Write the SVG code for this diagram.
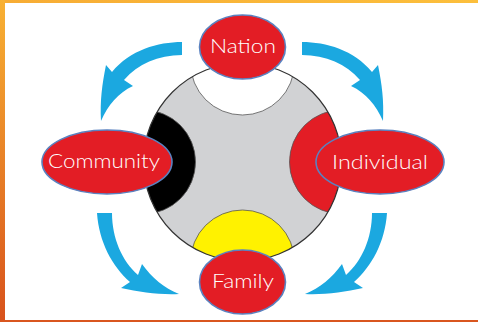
<svg xmlns="http://www.w3.org/2000/svg" width="478" height="322" viewBox="0 0 478 322">
  <defs>
    <linearGradient id="leftEdge" x1="0" y1="0" x2="0" y2="1">
      <stop offset="0" stop-color="#f8b133"/>
      <stop offset="1" stop-color="#d8521c"/>
    </linearGradient>
    <linearGradient id="topEdge" x1="0" y1="0" x2="1" y2="0">
      <stop offset="0" stop-color="#f7ac34"/>
      <stop offset="1" stop-color="#fcbf3c"/>
    </linearGradient>
    <clipPath id="wheelClip">
      <circle cx="242.5" cy="162" r="99"/>
    </clipPath>
    <style>
      .arrow { fill: #1ba8e0; }
      .seg { stroke: #555; stroke-width: 0.8; }
      .node ellipse { fill: #e31d25; stroke: #5a82c0; stroke-width: 1.6; }
      .node text { fill: #ffffff; font-family: "Lato", "Open Sans", sans-serif; font-weight: 300; font-size: 20px; text-anchor: middle; }
    </style>
  </defs>

  <!-- page background and frame -->
  <rect x="0" y="0" width="478" height="322" fill="#ffffff"/>
  <rect x="0" y="0" width="478" height="3" fill="url(#topEdge)"/>
  <rect x="0" y="0" width="5" height="322" fill="url(#leftEdge)"/>
  <rect x="0" y="320" width="478" height="2" fill="#d9561f"/>

  <!-- central wheel -->
  <g id="wheel">
    <circle cx="242.5" cy="162" r="99" fill="#d1d2d4"/>
    <g clip-path="url(#wheelClip)">
      <circle class="seg" cx="242.5" cy="63" r="52" fill="#ffffff"/>
      <circle class="seg" cx="143.5" cy="162" r="52" fill="#000000"/>
      <circle class="seg" cx="341.5" cy="162" r="52" fill="#e31d25"/>
      <circle class="seg" cx="242.5" cy="262" r="52" fill="#fff200"/>
    </g>
    <circle cx="242.5" cy="162" r="99" fill="none" stroke="#333" stroke-width="1.2"/>
  </g>

  <!-- curved arrows between the four nodes -->
  <g id="connectors">
    <path class="arrow" d="M182,42 C158,42 130,50 112,72 L106,65 C102,85 100,100 101,121 C108,105 118,93 133,86 L124,80 C138,64 158,55 182,55 Z"/>
    <path class="arrow" transform="matrix(-1 0 0 1 484 0)" d="M182,42 C158,42 130,50 112,72 L106,65 C102,85 100,100 101,121 C108,105 118,93 133,86 L124,80 C138,64 158,55 182,55 Z"/>
    <path class="arrow" d="M97,213 L112,213 C112,238 122,261 138,275 L142,264 C152,278 164,288 179,294 C160,295 140,292 121,288 L130,282 C112,266 99,242 97,213 Z"/>
    <path class="arrow" transform="matrix(-1 0 0 1 484 0)" d="M97,213 L112,213 C112,238 122,261 138,275 L142,264 C152,278 164,288 179,294 C160,295 140,292 121,288 L130,282 C112,266 99,242 97,213 Z"/>
  </g>

  <g id="nation" class="node">
    <ellipse cx="242.5" cy="47" rx="43" ry="32"/>
    <text x="243" y="53" textLength="66" lengthAdjust="spacingAndGlyphs">Nation</text>
  </g>
  <g id="community" class="node">
    <ellipse cx="107" cy="162" rx="65" ry="32"/>
    <text x="104" y="168" textLength="112" lengthAdjust="spacingAndGlyphs">Community</text>
  </g>
  <g id="individual" class="node">
    <ellipse cx="380" cy="162" rx="64" ry="32"/>
    <text x="380" y="169" textLength="96" lengthAdjust="spacingAndGlyphs">Individual</text>
  </g>
  <g id="family" class="node">
    <ellipse cx="242.5" cy="282" rx="43" ry="32"/>
    <text x="243" y="288" textLength="62" lengthAdjust="spacingAndGlyphs">Family</text>
  </g>
</svg>
